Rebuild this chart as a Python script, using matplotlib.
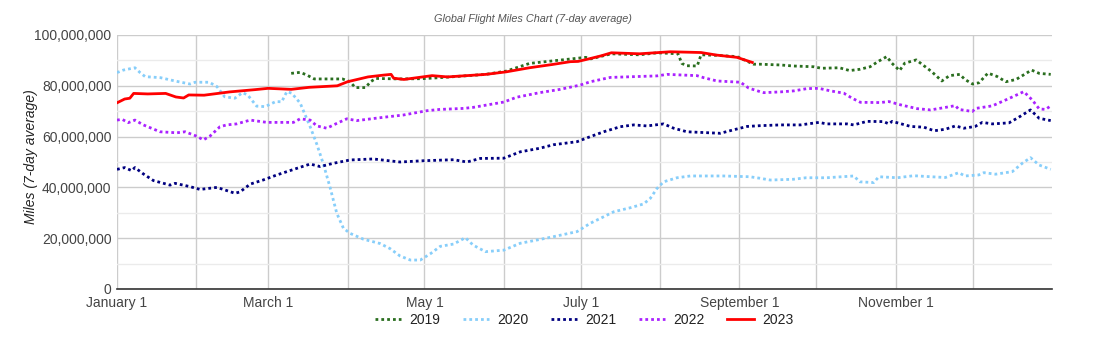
import matplotlib
matplotlib.use("Agg")
import matplotlib.pyplot as plt
from matplotlib.ticker import FuncFormatter, MultipleLocator

plt.rcParams['font.family'] = ['Liberation Sans', 'DejaVu Sans']

# day of year -> value (millions of miles, 7-day average)
d2019 = [68, 71.5, 74, 77, 88, 91, 93, 97, 99, 101, 110, 119, 126, 144, 152, 161, 170, 183, 185, 193,
         204, 211, 219, 220.5, 222.5, 226.5, 228, 234, 242, 248.5, 251, 259, 264, 272, 275, 282, 286, 290,
         294, 297, 300.5, 302.5, 305.5, 307.5, 312, 318, 322, 325, 329, 331, 334, 336.5, 340, 343.5, 347,
         351, 357, 360, 364.5]
v2019 = [84.9, 85.3, 84.3, 82.7, 82.7, 81.6, 79.3, 79.3, 81.6, 82.9, 82.7, 82.8, 83.2, 84.5, 85.8, 88.8,
         89.8, 91.2, 90.6, 92.6, 92.2, 93, 92.6, 88.8, 87.9, 87.8, 92.2, 92, 91.5, 88.5, 88.5, 88.2, 87.8,
         87.5, 86.9, 87.1, 86, 86.5, 87.5, 89.5, 91.5, 88.9, 86, 88.9, 90.2, 85.6, 81.9, 84, 84.5, 82.5,
         80.7, 81.2, 85, 83.7, 81.6, 82.5, 86.2, 84.9, 84.5]

d2020 = [0, 2.5, 7, 9, 11, 17, 22.6, 28.5, 30.5, 36, 39, 42, 46, 49, 51, 54.5, 57.8, 62, 64.3, 66.3,
         68.2, 71.5, 75.4, 78, 80.6, 83.2, 85.8, 88.4, 91, 96.2, 102.7, 106.6, 110.5, 114.5, 118.4, 122.5,
         126.2, 131.4, 136, 139, 143.8, 151, 157.4, 164, 170.4, 179.6, 184.8, 188.7, 193.9, 200.4, 205.6,
         208.2, 210.8, 213.4, 218.6, 223.8, 236.8, 247, 251, 255, 264, 269, 277, 287.6, 290, 295.4, 297.4,
         304.6, 311, 317.6, 323.4, 328.6, 331, 336.4, 338.4, 343, 349.5, 353.4, 356.6, 360, 364.5]
v2020 = [85.2, 86.2, 87.1, 85.2, 83.6, 83.2, 81.9, 80.7, 81.4, 81.4, 79.7, 75.7, 75.1, 77.3, 76.4, 72.0,
         71.8, 73.8, 73.7, 77.7, 77.1, 73.2, 63.9, 57.0, 49.1, 39.9, 29.8, 23.9, 21.9, 19.6, 17.9, 15.9,
         13.0, 11.4, 11.4, 14.0, 16.8, 17.7, 20.2, 17.3, 14.7, 15.3, 18, 19.3, 20.6, 22.6, 25.9, 27.8,
         30.4, 32, 33.5, 35.7, 39.6, 42.2, 43.8, 44.5, 44.5, 44.2, 43.6, 42.9, 43.2, 43.8, 43.8, 44.5,
         42.2, 41.9, 44.2, 43.8, 44.6, 44.2, 43.9, 45.8, 44.5, 44.9, 45.8, 45.2, 46.2, 49.5, 51.7, 48.8, 47.1]

d2021 = [0, 3, 5.7, 7, 10.3, 14.2, 20.7, 22.7, 28.5, 32.4, 39, 41.5, 46, 48, 52, 57, 62.4, 70.2, 75.4,
         79.3, 84.5, 91, 100, 110.5, 119.6, 131.4, 136.6, 141.8, 151, 157.4, 165, 170.4, 179.6, 184.8, 190,
         196.5, 201.7, 206.9, 213.4, 217.3, 222.5, 229, 235.5, 240.8, 246, 251, 259, 266.8, 274, 277, 285,
         287.6, 292.8, 299.3, 301.3, 302.6, 309.8, 315, 319, 323.4, 327.3, 330.6, 335, 337.8, 341.7, 348.2,
         352, 356.6, 360, 364.5]
v2021 = [47.1, 47.8, 46.6, 47.8, 45.3, 42.7, 40.9, 41.6, 40.3, 39.2, 40, 39.2, 37.7, 38.2, 41.3, 42.9,
         44.9, 47.5, 49.2, 48.2, 49.5, 50.8, 51.2, 50, 50.5, 50.9, 50, 51.4, 51.5, 54, 55.4, 56.8, 58, 60,
         61.9, 63.9, 64.6, 64.2, 65, 63.3, 61.9, 61.6, 61.3, 62.7, 64, 64.3, 64.6, 64.6, 65.6, 65, 65, 64.6,
         66, 65.9, 65, 66, 64, 63.7, 62.3, 62.9, 64.2, 63.3, 64, 65.6, 65, 65.4, 67.6, 70.5, 67.2, 66.3]

d2022 = [0, 2, 4.4, 7, 10.3, 16.8, 23.3, 26.6, 31, 33.7, 36.3, 40.2, 42.8, 46.7, 52, 58.5, 68.9, 71.5,
         75.4, 78, 81.9, 85.8, 89.7, 93.6, 104, 111.8, 121, 126, 135.3, 139, 151, 156, 165, 173, 180.9,
         184.8, 192.6, 210.8, 214.7, 226.4, 229, 234.2, 243.4, 246.6, 251, 252.5, 259, 264.2, 269.4, 274,
         278.5, 283.7, 287, 290.2, 298, 301.3, 305.9, 312.4, 317.6, 323.4, 327.3, 328.6, 333.9, 335.2,
         341.7, 348.2, 354, 357.3, 360, 362.5, 364.5]
v2022 = [66.5, 66.8, 65.5, 66.5, 64.6, 61.9, 61.5, 61.9, 60.2, 58.7, 60.2, 63.9, 64.6, 65, 66.5, 65.6,
         65.6, 67, 66.5, 64.2, 63.3, 65.2, 67, 66.3, 67.6, 68.5, 70.2, 70.7, 71.1, 71.5, 73.6, 75.5, 77.3,
         78.6, 80.3, 81.6, 83.3, 83.9, 84.5, 84, 83.2, 81.9, 81.4, 79.1, 77.7, 77.3, 77.6, 78, 78.9, 79,
         78, 77.1, 75.1, 73.5, 73.4, 73.8, 72.5, 71, 70.5, 71.5, 72.2, 70.7, 69.9, 71.1, 72.1, 75, 77.7,
         74.4, 70.9, 70.7, 72.1]

d2023 = [0, 3, 5, 6.5, 12, 19, 23, 26, 28, 34, 44, 54, 59, 68, 75, 86, 90, 98, 104, 107, 108, 112, 123,
         129, 144, 152, 161, 170, 177, 180, 185, 189, 193, 204, 216, 228, 234, 242, 248]
v2023 = [73.3, 74.8, 75.1, 77, 76.8, 77, 75.6, 75.2, 76.4, 76.3, 77.6, 78.5, 79, 78.6, 79.4, 80.0, 81.6,
         83.5, 84.2, 84.5, 83, 82.5, 84, 83.5, 84.5, 85.5, 87.1, 88.4, 89.5, 89.6, 90.8, 91.8, 93, 92.6,
         93.4, 93.1, 92.1, 91.2, 89.2]

month_starts = [0, 31, 59, 90, 120, 151, 181, 212, 243, 273, 304, 334]
label_days = [0, 59, 120, 181, 243, 304]
label_names = ["January 1", "March 1", "May 1", "July 1", "September 1", "November 1"]

series = [
    ("2019", d2019, v2019, "#2a6e1f", (0, (1, 1.1))),
    ("2020", d2020, v2020, "#87cefa", (0, (1, 1.1))),
    ("2021", d2021, v2021, "#000080", (0, (1, 1.1))),
    ("2022", d2022, v2022, "#aa22ff", (0, (1, 1.1))),
    ("2023", d2023, v2023, "#ff0000", "-"),
]

fig = plt.figure(figsize=(11.13, 3.46), dpi=100)
ax = fig.add_axes([117 / 1113, 1 - 289 / 346, (1052 - 117) / 1113, (289 - 35) / 346])

for name, dd, vv, col, ls in series:
    ax.plot(dd, [v * 1e6 for v in vv], color=col, linestyle=ls, linewidth=2, label=name)

ax.set_xlim(0, 365)
ax.set_ylim(0, 100e6)
ax.yaxis.set_major_locator(MultipleLocator(20e6))
ax.yaxis.set_minor_locator(MultipleLocator(10e6))
ax.yaxis.set_major_formatter(FuncFormatter(lambda v, p: f"{v:,.0f}"))
ax.set_xticks(label_days)
ax.set_xticklabels(label_names)
ax.set_xticks(month_starts, minor=True)

ax.grid(True, which="major", color="#cccccc", linewidth=1)
ax.grid(True, which="minor", axis="x", color="#cccccc", linewidth=1)
ax.grid(True, which="minor", axis="y", color="#ebebeb", linewidth=1)
ax.set_axisbelow(True)
ax.tick_params(which="both", length=0)
ax.tick_params(axis="y", labelsize=10, labelcolor="#444444", pad=4)
ax.tick_params(axis="x", labelsize=10, labelcolor="#444444", pad=5)

for s in ["top", "right", "left"]:
    ax.spines[s].set_visible(False)
ax.spines["bottom"].set_color("#333333")
ax.spines["bottom"].set_linewidth(1.2)

ax.set_ylabel("Miles (7-day average)", fontsize=10, style="italic", color="#222222")
ax.yaxis.set_label_coords(-0.085, 0.52)

fig.text(533 / 1113, 1 - 19 / 346, "Global Flight Miles Chart (7-day average)",
         fontsize=7.8, style="italic", color="#555555", ha="center", va="center")

fig.legend(loc="center", bbox_to_anchor=(584 / 1113, 1 - 320 / 346), ncol=5, frameon=False,
           fontsize=10, handlelength=1.9, handletextpad=0.6, columnspacing=1.6,
           labelcolor="#222222")

fig.savefig("out.png", dpi=100)
